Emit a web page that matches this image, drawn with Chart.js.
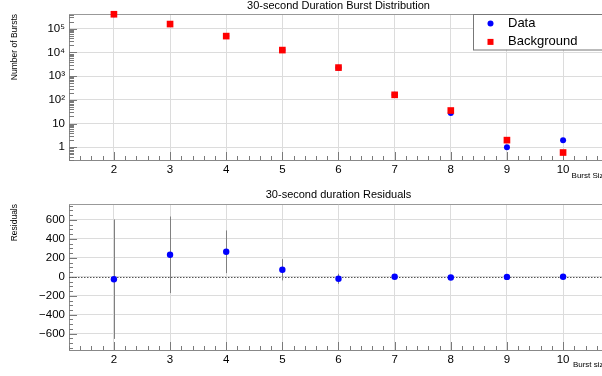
<!DOCTYPE html>
<html>
<head>
<meta charset="utf-8">
<script src="https://cdn.jsdelivr.net/npm/chart.js@4/dist/chart.umd.min.js"></script>
<style>
html, body { margin: 0; padding: 0; background: #fff; }
#wrap { position: relative; width: 602px; height: 376px; overflow: hidden; }
canvas { position: absolute; left: 0; }
</style>
</head>
<body>
<div id="wrap">
  <canvas id="dist" width="640" height="188" style="top:0"></canvas>
  <canvas id="resid" width="640" height="188" style="top:188px"></canvas>
</div>
<script>
const FONT = "'Liberation Sans', Arial, Helvetica, sans-serif"
Chart.defaults.font.family = FONT
Chart.defaults.color = '#000'
Chart.defaults.animation = false

// values
const burstSizes = [2, 3, 4, 5, 6, 7, 8, 9, 10]
const dataCounts = [409975, 158232, 49264, 12674, 2279, 163, 28, 1, 2]
const backgroundCounts = [410000, 158000, 49000, 12600, 2300, 163, 35.5, 2, 0.6]
const residuals = [-25, 232, 264, 74, -21, 0, -7.5, -1, 1.4]
const residualErrors = [630, 404, 225, 112, 53, 13, 6, 1.4, 0.8]

const xTicks = [2, 3, 4, 5, 6, 7, 8, 9, 10]
const countTicks = [1, 10, 100, 1000, 10000, 100000]
const countTickLabels = ['1', '10', '10²', '10³', '10⁴', '10⁵']
const residTicks = [-600, -400, -200, 0, 200, 400, 600]
const residTickLabels = ['−600', '−400', '−200', '0', '200', '400', '600']

const toPoints = ys => burstSizes.map((x, i) => ({x: x, y: ys[i]}))

// ROOT style ticks drawn inside the frame
const innerTicks = {
    id: 'innerTicks',
    beforeDatasetsDraw(chart){
        const {ctx, chartArea: a, scales: {x, y}} = chart
        ctx.save()
        ctx.strokeStyle = '#7a7a7a'
        ctx.lineWidth = 1
        ctx.beginPath()
        for(let k = Math.ceil(x.min*5); k <= Math.floor(x.max*5); k++){
            const px = Math.round(x.getPixelForValue(k/5)) + 0.5
            const len = k % 5 === 0 ? 8 : 4
            ctx.moveTo(px, a.bottom)
            ctx.lineTo(px, a.bottom - len)
        }
        const yt = []
        if(y.type === 'logarithmic'){
            for(let e = -1; e <= 6; e++){
                for(let m = 1; m < 10; m++){
                    const v = m * Math.pow(10, e)
                    if(v >= y.min && v <= y.max) yt.push([v, m === 1 ? 8 : 5])
                }
            }
        } else {
            for(let v = Math.ceil(y.min/50)*50; v <= y.max; v += 50) yt.push([v, v % 200 === 0 ? 8 : 4])
        }
        yt.forEach(([v, len]) => {
            const py = Math.round(y.getPixelForValue(v)) + 0.5
            ctx.moveTo(a.left, py)
            ctx.lineTo(a.left + len, py)
        })
        ctx.stroke()
        ctx.strokeStyle = '#999'
        ctx.beginPath()
        ctx.moveTo(a.left, a.top + 0.5)
        ctx.lineTo(a.right, a.top + 0.5)
        ctx.stroke()
        ctx.restore()
    }
}

const panelTitle = {
    id: 'panelTitle',
    afterDraw(chart, args, opts){
        const {ctx, chartArea: a} = chart
        ctx.save()
        ctx.font = `11px ${FONT}`
        ctx.fillStyle = '#000'
        ctx.textAlign = 'center'
        ctx.textBaseline = 'alphabetic'
        ctx.fillText(opts.text, (a.left + a.right)/2, opts.baseline)
        ctx.restore()
    }
}

const boxLegend = {
    id: 'boxLegend',
    afterDatasetsDraw(chart){
        const {ctx, chartArea: a} = chart
        const left = a.right - 135, top = a.top, h = 35.5
        ctx.save()
        ctx.fillStyle = '#fff'
        ctx.fillRect(left, top, a.right - left + 40, h)
        ctx.strokeStyle = '#777'
        ctx.lineWidth = 1
        ctx.strokeRect(left + 0.5, top + 0.5, a.right - left + 40, h)
        ctx.font = `13px ${FONT}`
        ctx.textBaseline = 'middle'
        chart.data.datasets.forEach((ds, i) => {
            const cy = top + 9.5 + i*18.4
            const cx = left + 17.5
            ctx.fillStyle = ds.backgroundColor
            if(ds.pointStyle === 'rect'){
                const s = 6
                ctx.fillRect(cx - s/2, cy - s/2, s, s)
            } else {
                ctx.beginPath()
                ctx.arc(cx, cy, ds.pointRadius, 0, Math.PI*2)
                ctx.fill()
            }
            ctx.fillStyle = '#000'
            ctx.fillText(ds.label, left + 35, cy)
        })
        ctx.restore()
    }
}

const residualMarks = {
    id: 'residualMarks',
    beforeDatasetsDraw(chart){
        const {ctx, chartArea: a, scales: {x, y}} = chart
        ctx.save()
        ctx.lineWidth = 1
        ctx.strokeStyle = '#555'
        ctx.setLineDash([1.5, 1.5])
        const y0 = Math.round(y.getPixelForValue(0)) + 0.5
        ctx.beginPath()
        ctx.moveTo(a.left, y0)
        ctx.lineTo(a.right, y0)
        ctx.stroke()
        ctx.setLineDash([])
        ctx.strokeStyle = '#808080'
        burstSizes.forEach((b, i) => {
            const px = Math.round(x.getPixelForValue(b)) + 0.5
            ctx.beginPath()
            ctx.moveTo(px, y.getPixelForValue(residuals[i] + residualErrors[i]))
            ctx.lineTo(px, y.getPixelForValue(residuals[i] - residualErrors[i]))
            ctx.stroke()
        })
        ctx.restore()
    }
}

function xScale(titleText, height, titlePad){
    return {
        type: 'linear',
        min: 1.2,
        max: 10.8,
        afterBuildTicks: s => { s.ticks = xTicks.map(v => ({value: v})) },
        ticks: {font: {size: 11.5}, padding: 3, maxRotation: 0, autoSkip: false},
        grid: {color: '#dcdcdc', drawTicks: false},
        border: {color: '#888'},
        title: {display: true, text: titleText, align: 'end', font: {size: 8}, padding: {top: 0, bottom: titlePad}},
        afterFit: s => { s.height = height }
    }
}

function yTitle(text){
    return {display: true, text: text, align: 'end', font: {size: 8.5}, padding: {top: 10, bottom: 0}}
}

new Chart('dist', {
    type: 'scatter',
    data: {datasets: [
        {label: 'Data', data: toPoints(dataCounts), pointStyle: 'circle', pointRadius: 3,
         backgroundColor: '#0000ff', borderWidth: 0, order: 2, clip: false},
        {label: 'Background', data: toPoints(backgroundCounts), pointStyle: 'rect', pointRadius: 4.7,
         backgroundColor: '#ff0000', borderWidth: 0, order: 1, clip: false}
    ]},
    options: {
        responsive: false,
        layout: {padding: {top: 14, right: 32, left: 0, bottom: 0}},
        plugins: {
            legend: {display: false},
            tooltip: {enabled: false},
            panelTitle: {text: '30-second Duration Burst Distribution', baseline: 8.5}
        },
        scales: {
            x: xScale('Burst Size', 28, 7),
            y: {
                type: 'logarithmic',
                min: 0.29,
                max: 420000,
                afterBuildTicks: s => { s.ticks = countTicks.map(v => ({value: v})) },
                ticks: {font: {size: 11.5}, padding: 4, autoSkip: false, callback: (v, i) => countTickLabels[i]},
                grid: {color: '#dcdcdc', drawTicks: false},
                border: {color: '#888'},
                title: yTitle('Number of Bursts'),
                afterFit: s => { s.width = 69 }
            }
        }
    },
    plugins: [innerTicks, boxLegend, panelTitle]
})

new Chart('resid', {
    type: 'scatter',
    data: {datasets: [
        {label: 'Residuals', data: toPoints(residuals), pointStyle: 'circle', pointRadius: 3.2,
         backgroundColor: '#0000ff', borderWidth: 0, clip: false}
    ]},
    options: {
        responsive: false,
        layout: {padding: {top: 16, right: 32, left: 0, bottom: 0}},
        plugins: {
            legend: {display: false},
            tooltip: {enabled: false},
            panelTitle: {text: '30-second duration Residuals', baseline: 10}
        },
        scales: {
            x: xScale('Burst size', 26, 6),
            y: {
                type: 'linear',
                min: -772,
                max: 768,
                afterBuildTicks: s => { s.ticks = residTicks.map(v => ({value: v})) },
                ticks: {font: {size: 11.5}, padding: 4, autoSkip: false, callback: (v, i) => residTickLabels[i]},
                grid: {color: '#dcdcdc', drawTicks: false},
                border: {color: '#888'},
                title: yTitle('Residuals'),
                afterFit: s => { s.width = 69 }
            }
        }
    },
    plugins: [innerTicks, residualMarks, panelTitle]
})
</script>
</body>
</html>
